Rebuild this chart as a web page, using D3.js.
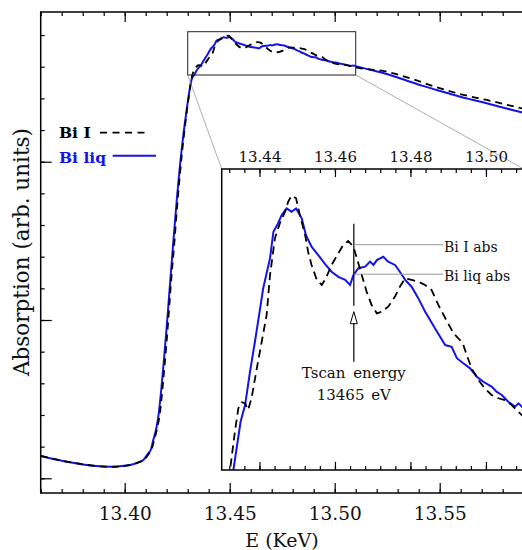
<!DOCTYPE html>
<html>
<head>
<meta charset="utf-8">
<script src="https://cdn.jsdelivr.net/npm/d3@7"></script>
<style>
body { margin: 0; background: #fff; }
svg { display: block; font-family: "DejaVu Serif", serif; }
</style>
</head>
<body>
<svg width="522" height="550"></svg>
<script>
// Bi liq (solid blue): energy in keV, absorption in arb. units
const liqEnergy = [13.3600, 13.3724, 13.3819, 13.3930, 13.4025, 13.4073, 13.4089, 13.4112, 13.4124, 13.4136, 13.4149, 13.4160, 13.4184,
  13.4200, 13.4216, 13.4231, 13.4248, 13.4271, 13.4295, 13.4319,
  13.4331, 13.4350, 13.4362, 13.4375, 13.4388, 13.4399, 13.4410, 13.4428, 13.4437, 13.4447,
  13.4459, 13.4472, 13.4485, 13.4497, 13.4512, 13.4523, 13.4538, 13.4552, 13.4574, 13.4591,
  13.4609, 13.4627, 13.4640, 13.4649, 13.4662, 13.4680, 13.4693, 13.4702, 13.4711, 13.4728,
  13.4741, 13.4759, 13.4772, 13.4786, 13.4803, 13.4821, 13.4839, 13.4852, 13.4870, 13.4892,
  13.4909, 13.4923, 13.4940, 13.4958, 13.4976, 13.4993, 13.5015, 13.5028, 13.5042, 13.5059,
  13.5077, 13.5086, 13.5095,
  13.5170, 13.5248, 13.5300, 13.5359, 13.5420, 13.5486, 13.5540, 13.5597, 13.5660, 13.5724, 13.5800, 13.5890, 13.5920];
const liqAbs = [0.0704, 0.0524, 0.0420, 0.0366, 0.0420, 0.0524, 0.0578, 0.0790, 0.0894, 0.1210, 0.1525, 0.1946, 0.3525,
  0.4788, 0.6159, 0.7423, 0.8790, 1.0370, 1.1633, 1.2600,
  1.2738, 1.2957, 1.3033, 1.3185, 1.3321, 1.3442, 1.3564, 1.3700, 1.3821, 1.3851,
  1.3897, 1.3927, 1.3912, 1.3927, 1.3882, 1.3806, 1.3753, 1.3723, 1.3674, 1.3639,
  1.3616, 1.3602, 1.3579, 1.3624, 1.3655, 1.3662, 1.3685, 1.3670, 1.3692, 1.3707,
  1.3685, 1.3670, 1.3639, 1.3602, 1.3571, 1.3518, 1.3457, 1.3420, 1.3367, 1.3306,
  1.3298, 1.3246, 1.3223, 1.3200, 1.3162, 1.3139, 1.3117, 1.3094, 1.3079, 1.3048,
  1.3026, 1.3041, 1.3026,
  1.2900, 1.2770, 1.2660, 1.2527, 1.2395, 1.2265, 1.2160, 1.2053, 1.1950, 1.1845, 1.1710, 1.1560, 1.1510];

// Bi I (black dashed)
const solidEnergy = [13.3600, 13.3724, 13.3819, 13.3930, 13.4025, 13.4073, 13.4092, 13.4115, 13.4127, 13.4140, 13.4152, 13.4165, 13.4189,
  13.4205, 13.4220, 13.4236, 13.4252, 13.4274, 13.4297, 13.4313,
  13.4322, 13.4335, 13.4344, 13.4353, 13.4362, 13.4370, 13.4379, 13.4393, 13.4406, 13.4419,
  13.4428, 13.4441, 13.4454, 13.4468, 13.4476, 13.4485, 13.4497, 13.4507, 13.4521, 13.4529,
  13.4538, 13.4552, 13.4565, 13.4576, 13.4591, 13.4609, 13.4622, 13.4635, 13.4649, 13.4658,
  13.4671, 13.4684, 13.4697, 13.4711, 13.4724, 13.4741, 13.4759, 13.4772, 13.4786, 13.4803,
  13.4821, 13.4839, 13.4856, 13.4874, 13.4892, 13.4914, 13.4931, 13.4940, 13.4949, 13.4962,
  13.4980, 13.4997, 13.5015, 13.5033, 13.5050, 13.5068, 13.5086, 13.5095,
  13.5248, 13.5359, 13.5486, 13.5597, 13.5724, 13.5890, 13.5920];
const solidAbs = [0.0710, 0.0530, 0.0425, 0.0360, 0.0415, 0.0520, 0.0575, 0.0780, 0.0890, 0.1200, 0.1510, 0.1930, 0.3500,
  0.4770, 0.6140, 0.7400, 0.8770, 1.0350, 1.1650, 1.2400,
  1.2738, 1.2912, 1.3018, 1.3046, 1.3041, 1.3011, 1.3064, 1.3200, 1.3321, 1.3442,
  1.3624, 1.3791, 1.3859, 1.3912, 1.3957, 1.3985, 1.3973, 1.3897, 1.3806, 1.3730,
  1.3670, 1.3602, 1.3579, 1.3609, 1.3670, 1.3723, 1.3761, 1.3779, 1.3753, 1.3700,
  1.3624, 1.3548, 1.3488, 1.3450, 1.3457, 1.3480, 1.3526, 1.3571, 1.3609, 1.3602,
  1.3594, 1.3579, 1.3556, 1.3488, 1.3429, 1.3359, 1.3329, 1.3306, 1.3261, 1.3200,
  1.3147, 1.3109, 1.3079, 1.3064, 1.3056, 1.3033, 1.3003, 1.2988,
  1.2843, 1.2634, 1.2350, 1.2138, 1.1949, 1.1687, 1.1640];

const xMajor = [13.40, 13.45, 13.50, 13.55];
const xMinor = d3.range(13.36, 13.595, 0.01);
const yMajor = [0, 0.5, 1.0];
const yMinor = d3.range(0, 1.45, 0.1);

const insetEnergy = [13.43, 13.51];
const insetAbs = [1.2738, 1.4106];
const insetMajor = [13.44, 13.46, 13.48, 13.50];
const insetMinor = d3.range(13.432, 13.5095, 0.004);

const tscanEnergy = 13.465;
const tscanSolidAbs = 1.3762;
const tscanLiqAbs = 1.3628;

const blue = "#1414e6";

const svg = d3.select("svg");

const plotLeft = 40.7, plotTop = 12, plotBottom = 493;
const x = d3.scaleLinear().domain([13.36, 13.60]).range([plotLeft, 544.7]);
const y = d3.scaleLinear().domain([0, 1]).range([478.3, 161.7]);

const solidData = solidEnergy.map((e, i) => [e, solidAbs[i]]);
const liqData = liqEnergy.map((e, i) => [e, liqAbs[i]]);

svg.append("clipPath").attr("id", "mainClip")
  .append("rect")
  .attr("x", plotLeft).attr("y", plotTop)
  .attr("width", x.range()[1] - plotLeft).attr("height", plotBottom - plotTop);

const mainLine = d3.line().x(d => x(d[0])).y(d => y(d[1])).curve(d3.curveMonotoneX);

// axes (ticks inward, frame drawn separately)
function styleAxis(g) {
  g.select(".domain").remove();
  g.selectAll(".tick line").attr("stroke", "#000").attr("stroke-width", 1.2);
  g.selectAll("text").attr("fill", "#111").attr("font-family", "DejaVu Serif, serif");
}

svg.append("g")
  .attr("transform", `translate(0,${plotBottom})`)
  .call(d3.axisBottom(x).tickValues(xMinor).tickSize(-4).tickFormat(""))
  .call(styleAxis);
svg.append("g")
  .attr("transform", `translate(0,${plotBottom})`)
  .call(d3.axisBottom(x).tickValues(xMajor).tickSize(-10).tickPadding(14).tickFormat(d3.format(".2f")))
  .call(styleAxis)
  .selectAll("text").attr("font-size", "18.5px");

svg.append("g")
  .attr("transform", `translate(0,${plotTop})`)
  .call(d3.axisTop(x).tickValues(xMinor).tickSize(-4).tickFormat(""))
  .call(styleAxis);
svg.append("g")
  .attr("transform", `translate(0,${plotTop})`)
  .call(d3.axisTop(x).tickValues(xMajor).tickSize(-10).tickFormat(""))
  .call(styleAxis);

svg.append("g")
  .attr("transform", `translate(${plotLeft},0)`)
  .call(d3.axisLeft(y).tickValues(yMinor).tickSize(-4).tickFormat(""))
  .call(styleAxis);
svg.append("g")
  .attr("transform", `translate(${plotLeft},0)`)
  .call(d3.axisLeft(y).tickValues(yMajor).tickSize(-11).tickFormat(""))
  .call(styleAxis);

svg.append("rect")
  .attr("x", plotLeft).attr("y", plotTop)
  .attr("width", x.range()[1] - plotLeft).attr("height", plotBottom - plotTop)
  .attr("fill", "none").attr("stroke", "#000").attr("stroke-width", 1.5);

// main curves
const mainG = svg.append("g").attr("clip-path", "url(#mainClip)");
mainG.append("path").datum(liqData)
  .attr("d", mainLine).attr("fill", "none")
  .attr("stroke", blue).attr("stroke-width", 2);
mainG.append("path").datum(solidData)
  .attr("d", mainLine).attr("fill", "none")
  .attr("stroke", "#000").attr("stroke-width", 1.8).attr("stroke-dasharray", "7,5");

// zoom box on main plot
const bx0 = x(insetEnergy[0]), bx1 = x(insetEnergy[1]);
const by0 = y(insetAbs[1]), by1 = y(insetAbs[0]);
svg.append("rect")
  .attr("x", bx0).attr("y", by0)
  .attr("width", bx1 - bx0).attr("height", by1 - by0)
  .attr("fill", "none").attr("stroke", "#222").attr("stroke-width", 1);

// inset
const xi = d3.scaleLinear().domain(insetEnergy).range([221.7, 523.7]);
const yi = d3.scaleLinear().domain(insetAbs).range([470, 169]);

svg.append("line")
  .attr("x1", bx0).attr("y1", by1).attr("x2", xi.range()[0]).attr("y2", yi.range()[1])
  .attr("stroke", "#999").attr("stroke-width", 0.8);
svg.append("line")
  .attr("x1", bx1).attr("y1", by1).attr("x2", xi.range()[1]).attr("y2", yi.range()[1])
  .attr("stroke", "#999").attr("stroke-width", 0.8);

svg.append("rect")
  .attr("x", xi.range()[0]).attr("y", yi.range()[1])
  .attr("width", xi.range()[1] - xi.range()[0]).attr("height", yi.range()[0] - yi.range()[1])
  .attr("fill", "#fff");

svg.append("clipPath").attr("id", "insetClip")
  .append("rect")
  .attr("x", xi.range()[0]).attr("y", yi.range()[1])
  .attr("width", xi.range()[1] - xi.range()[0]).attr("height", yi.range()[0] - yi.range()[1]);

const insetLine = d3.line().x(d => xi(d[0])).y(d => yi(d[1]));
const insetG = svg.append("g").attr("clip-path", "url(#insetClip)");
insetG.append("path").datum(liqData)
  .attr("d", insetLine).attr("fill", "none")
  .attr("stroke", blue).attr("stroke-width", 2);
insetG.append("path").datum(solidData)
  .attr("d", insetLine).attr("fill", "none")
  .attr("stroke", "#000").attr("stroke-width", 1.8).attr("stroke-dasharray", "8,5");

svg.append("g")
  .attr("transform", `translate(0,${yi.range()[1]})`)
  .call(d3.axisTop(xi).tickValues(insetMinor).tickSize(-4).tickFormat(""))
  .call(styleAxis);
svg.append("g")
  .attr("transform", `translate(0,${yi.range()[1]})`)
  .call(d3.axisTop(xi).tickValues(insetMajor).tickSize(-8).tickPadding(7.5).tickFormat(d3.format(".2f")))
  .call(styleAxis)
  .selectAll("text").attr("font-size", "15px");
svg.append("g")
  .attr("transform", `translate(0,${yi.range()[0]})`)
  .call(d3.axisBottom(xi).tickValues(insetMinor).tickSize(-4).tickFormat(""))
  .call(styleAxis);
svg.append("g")
  .attr("transform", `translate(0,${yi.range()[0]})`)
  .call(d3.axisBottom(xi).tickValues(insetMajor).tickSize(-8).tickFormat(""))
  .call(styleAxis);

svg.append("rect")
  .attr("x", xi.range()[0]).attr("y", yi.range()[1])
  .attr("width", xi.range()[1] - xi.range()[0]).attr("height", yi.range()[0] - yi.range()[1])
  .attr("fill", "none").attr("stroke", "#000").attr("stroke-width", 1.5);

// Tscan annotation
const tx = xi(tscanEnergy);
const ySolid = yi(tscanSolidAbs), yLiq = yi(tscanLiqAbs);
svg.append("line")
  .attr("x1", tx).attr("x2", tx).attr("y1", ySolid - 21).attr("y2", ySolid + 61)
  .attr("stroke", "#000").attr("stroke-width", 1.2);
[ySolid, yLiq].forEach(yy => {
  svg.append("line")
    .attr("x1", tx).attr("x2", 443).attr("y1", yy).attr("y2", yy)
    .attr("stroke", "#999").attr("stroke-width", 1);
});
svg.append("text").attr("x", 444).attr("y", ySolid + 7.5)
  .attr("font-size", "14px").attr("fill", "#111").text("Bi I abs");
svg.append("text").attr("x", 444).attr("y", yLiq + 6.5)
  .attr("font-size", "14px").attr("fill", "#111").text("Bi liq abs");

const tipY = ySolid + 67;
svg.append("line")
  .attr("x1", tx).attr("x2", tx).attr("y1", tipY + 11).attr("y2", tipY + 50)
  .attr("stroke", "#000").attr("stroke-width", 1.2);
svg.append("path")
  .attr("d", `M${tx},${tipY} L${tx - 3.5},${tipY + 12} L${tx + 3.5},${tipY + 12} Z`)
  .attr("fill", "#fff").attr("stroke", "#000").attr("stroke-width", 1);
svg.append("text").attr("x", tx).attr("y", 378).attr("text-anchor", "middle")
  .attr("font-size", "15px").attr("fill", "#111").attr("word-spacing", "3px").text("Tscan energy");
svg.append("text").attr("x", tx).attr("y", 400).attr("text-anchor", "middle")
  .attr("font-size", "15px").attr("fill", "#111").attr("word-spacing", "2px").text("13465 eV");

// legend
svg.append("text").attr("x", 59).attr("y", 138)
  .attr("font-size", "15.5px").attr("font-weight", "bold").attr("fill", "#000").text("Bi I");
svg.append("line").attr("x1", 100).attr("x2", 150).attr("y1", 132.7).attr("y2", 132.7)
  .attr("stroke", "#000").attr("stroke-width", 1.8).attr("stroke-dasharray", "7,5.5");
svg.append("text").attr("x", 59).attr("y", 163)
  .attr("font-size", "15.5px").attr("font-weight", "bold").attr("fill", blue).text("Bi liq");
svg.append("line").attr("x1", 112.7).attr("x2", 156).attr("y1", 155.7).attr("y2", 155.7)
  .attr("stroke", blue).attr("stroke-width", 2);

// axis titles
svg.append("text")
  .attr("transform", "translate(21.7,252) rotate(-90)")
  .attr("text-anchor", "middle").attr("dominant-baseline", "central")
  .attr("font-size", "21.5px").attr("fill", "#111")
  .text("Absorption (arb. units)");
svg.append("text")
  .attr("x", 282).attr("y", 547).attr("text-anchor", "middle")
  .attr("font-size", "19px").attr("fill", "#111")
  .text("E (KeV)");
</script>
</body>
</html>
